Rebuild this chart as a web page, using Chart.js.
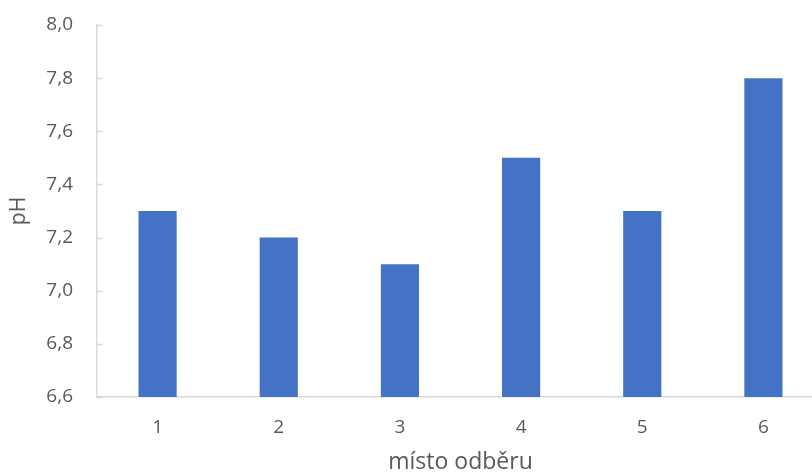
<!DOCTYPE html>
<html>
<head>
<meta charset="utf-8">
<script src="https://cdn.jsdelivr.net/npm/chart.js@4/dist/chart.umd.min.js"></script>
<style>
  html, body { margin: 0; padding: 0; background: #fff; overflow: hidden; }
  #wrap { width: 824px; height: 476px; position: relative; }
</style>
</head>
<body>
<div id="wrap"><canvas id="c"></canvas></div>
<script>
// Sampling sites and measured pH
const sites = ['1', '2', '3', '4', '5', '6'];
const phValues = [7.3, 7.2, 7.1, 7.5, 7.3, 7.8];
const yTicks = [6.6, 6.8, 7.0, 7.2, 7.4, 7.6, 7.8, 8.0];

const FONT = '"Open Sans", "Liberation Sans", sans-serif';
const TEXT = '#595959';
const AXIS = '#d9d9d9';

// Short tick marks drawn inward from the value axis
const innerTicks = {
  id: 'innerTicks',
  afterDraw(chart) {
    const y = chart.scales.y;
    const ctx = chart.ctx;
    ctx.save();
    ctx.strokeStyle = AXIS;
    ctx.lineWidth = 1.3;
    ctx.beginPath();
    yTicks.forEach(v => {
      const py = Math.round(y.getPixelForValue(v)) + 0.5;
      ctx.moveTo(y.right, py);
      ctx.lineTo(y.right + 6, py);
    });
    ctx.stroke();
    ctx.restore();
  }
};

new Chart(document.getElementById('c'), {
  type: 'bar',
  data: {
    labels: sites,
    datasets: [{
      data: phValues,
      backgroundColor: '#4472C4',
      borderWidth: 0,
      categoryPercentage: 1.0,
      barPercentage: 0.315
    }]
  },
  options: {
    responsive: true,
    maintainAspectRatio: false,
    animation: false,
    layout: { padding: { top: 25, right: 0, left: 0, bottom: 0 } },
    plugins: { legend: { display: false }, tooltip: { enabled: false } },
    scales: {
      x: {
        grid: { display: false, drawTicks: false },
        border: { display: true, color: AXIS, width: 1.5 },
        ticks: { color: TEXT, font: { family: FONT, size: 19 }, padding: 19 },
        title: {
          display: true, text: 'místo odběru', color: TEXT,
          font: { family: FONT, size: 23 }, padding: { top: 0, bottom: 0 }
        },
        afterFit(s) { s.height = 79; }
      },
      y: {
        min: 6.6, max: 8.0,
        afterBuildTicks(s) { s.ticks = yTicks.map(v => ({ value: v })); },
        grid: { display: false, drawTicks: false },
        border: { display: true, color: AXIS, width: 1.5 },
        ticks: {
          color: TEXT, font: { family: FONT, size: 19 }, padding: 24,
          callback: v => Number(v).toFixed(1).replace('.', ',')
        },
        title: {
          display: true, text: 'pH', color: TEXT,
          font: { family: FONT, size: 21 }, padding: { top: 6, bottom: 0 }
        },
        afterFit(s) {
          s.width = 97;
          s.paddingTop = 0;
          s.paddingBottom = 0;
        }
      }
    }
  },
  plugins: [innerTicks]
});
</script>
</body>
</html>
